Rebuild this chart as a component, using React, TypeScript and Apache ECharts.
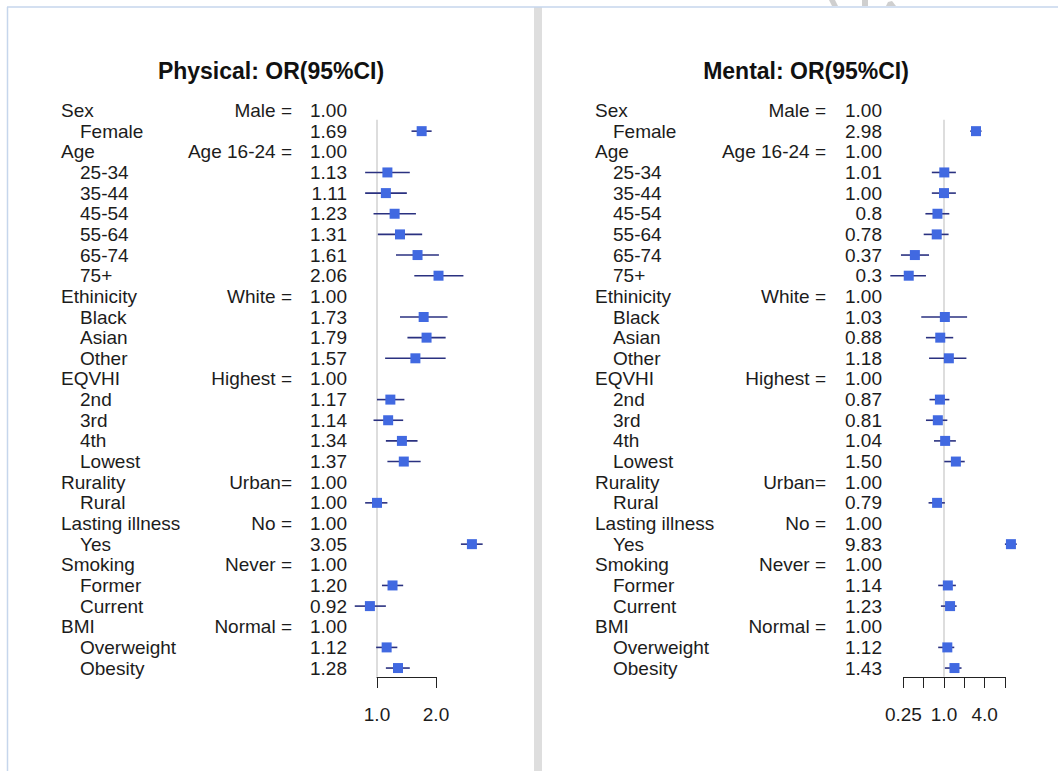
import React, { useEffect, useRef } from "react";
import * as echarts from "echarts";

// ---------------- data ----------------
const categories = ["Sex", "Female", "Age", "25-34", "35-44", "45-54", "55-64", "65-74", "75+", "Ethinicity", "Black", "Asian", "Other", "EQVHI", "2nd", "3rd", "4th", "Lowest", "Rurality", "Rural", "Lasting illness", "Yes", "Smoking", "Former", "Current", "BMI", "Overweight", "Obesity"];
const headerRows = [0, 2, 9, 13, 18, 20, 22, 25];
const referenceLabels = ["Male =", "", "Age 16-24 =", "", "", "", "", "", "", "White =", "", "", "", "Highest =", "", "", "", "", "Urban=", "", "No =", "", "Never =", "", "", "Normal =", "", ""];

const physicalText = ["1.00", "1.69", "1.00", "1.13", "1.11", "1.23", "1.31", "1.61", "2.06", "1.00", "1.73", "1.79", "1.57", "1.00", "1.17", "1.14", "1.34", "1.37", "1.00", "1.00", "1.00", "3.05", "1.00", "1.20", "0.92", "1.00", "1.12", "1.28"];
const physicalOR = [null, 1.69, null, 1.13, 1.11, 1.23, 1.31, 1.61, 2.06, null, 1.73, 1.79, 1.57, null, 1.17, 1.14, 1.34, 1.37, null, 1.0, null, 3.05, null, 1.2, 0.92, null, 1.12, 1.28];
const physicalLow = [null, 1.5, null, 0.87, 0.87, 0.96, 1.01, 1.25, 1.55, null, 1.31, 1.43, 1.1, null, 1.0, 0.96, 1.11, 1.13, null, 0.87, null, 2.68, null, 1.06, 0.77, null, 0.99, 1.11];
const physicalHigh = [null, 1.9, null, 1.47, 1.42, 1.58, 1.7, 2.07, 2.76, null, 2.29, 2.24, 2.24, null, 1.38, 1.36, 1.61, 1.67, null, 1.13, null, 3.46, null, 1.36, 1.11, null, 1.27, 1.47];

const mentalText = ["1.00", "2.98", "1.00", "1.01", "1.00", "0.8", "0.78", "0.37", "0.3", "1.00", "1.03", "0.88", "1.18", "1.00", "0.87", "0.81", "1.04", "1.50", "1.00", "0.79", "1.00", "9.83", "1.00", "1.14", "1.23", "1.00", "1.12", "1.43"];
const mentalOR = [null, 2.98, null, 1.01, 1.0, 0.8, 0.78, 0.37, 0.3, null, 1.03, 0.88, 1.18, null, 0.87, 0.81, 1.04, 1.5, null, 0.79, null, 9.83, null, 1.14, 1.23, null, 1.12, 1.43];
const mentalLow = [null, 2.45, null, 0.66, 0.66, 0.53, 0.5, 0.23, 0.16, null, 0.46, 0.54, 0.6, null, 0.61, 0.54, 0.71, 1.01, null, 0.59, null, 8.0, null, 0.82, 0.9, null, 0.82, 1.03];
const mentalHigh = [null, 3.6, null, 1.5, 1.5, 1.2, 1.17, 0.6, 0.54, null, 2.2, 1.37, 2.15, null, 1.2, 1.12, 1.5, 2.03, null, 1.03, null, 12.0, null, 1.5, 1.54, null, 1.42, 1.82];

const physicalTicks = [1, 2];
const physicalTickLabels = ["1.0", "2.0"];
const mentalTicks = [0.25, 0.5, 1, 2, 4, 8];
const mentalTickLabels = ["0.25", "", "1.0", "", "4.0", ""];

// ---------------- layout ----------------
const FONT = "'Liberation Sans', Arial, Helvetica, sans-serif";
const TEXT_COLOR = "#1c1c1c";
const FONT_SIZE = 19;
const ROW0 = 110.5;
const ROW_H = 20.65;
const NROWS = categories.length;
const AXIS_Y = 677;

const panels = [
  {
    title: "Physical: OR(95%CI)", titleX: 271,
    one: 377, ppu: 59, xmin: 0.75, xmax: 4,
    headerX: 61, subX: 80, refX: 292, valX: 347,
    text: physicalText, or: physicalOR, low: physicalLow, high: physicalHigh,
    ticks: physicalTicks, tickLabels: physicalTickLabels,
  },
  {
    title: "Mental: OR(95%CI)", titleX: 806,
    one: 944, ppu: 20.3, xmin: 0.15, xmax: 16,
    headerX: 595, subX: 613, refX: 826, valX: 882,
    text: mentalText, or: mentalOR, low: mentalLow, high: mentalHigh,
    ticks: mentalTicks, tickLabels: mentalTickLabels,
  },
];

function buildOption() {
  const grid: any[] = [];
  const xAxis: any[] = [];
  const yAxis: any[] = [];
  const series: any[] = [];
  const graphic: any[] = [];

  // frame of the screenshot
  graphic.push(
    { type: "rect", shape: { x: 534, y: 7, width: 8, height: 764 }, style: { fill: "#dedede" }, silent: true },
    { type: "line", shape: { x1: 7, y1: 7, x2: 1058, y2: 7 }, style: { stroke: "#c6d6ec", lineWidth: 1.5 }, silent: true },
    { type: "line", shape: { x1: 7.5, y1: 7, x2: 7.5, y2: 771 }, style: { stroke: "#c6d6ec", lineWidth: 1.5 }, silent: true },
    { type: "polygon", shape: { points: [[829, 0], [835, 0], [838, 6], [832, 6]] }, style: { fill: "#cfcfcf" }, silent: true },
    { type: "rect", shape: { x: 862, y: 0, width: 6, height: 6 }, style: { fill: "#cfcfcf" }, silent: true },
    { type: "polygon", shape: { points: [[888, 2], [892, 1], [896, 6], [886, 6]] }, style: { fill: "#cfcfcf" }, silent: true }
  );

  const headerSet = new Set(headerRows);

  panels.forEach((p) => {
    const mainGrid = grid.length;
    const gridLeft = p.one + p.ppu * Math.log2(p.xmin);
    grid.push({
      left: gridLeft,
      width: p.ppu * (Math.log2(p.xmax) - Math.log2(p.xmin)),
      top: ROW0,
      height: NROWS * ROW_H,
      outerBoundsMode: "none",
      containLabel: false,
    });
    const axisGrid = grid.length;
    const t0 = p.ticks[0];
    const t1 = p.ticks[p.ticks.length - 1];
    grid.push({
      left: p.one + p.ppu * Math.log2(t0),
      width: p.ppu * (Math.log2(t1) - Math.log2(t0)),
      top: AXIS_Y - 10,
      height: 10,
      outerBoundsMode: "none",
      containLabel: false,
    });

    const mainX = xAxis.length;
    xAxis.push({ gridIndex: mainGrid, type: "log", logBase: 2, min: p.xmin, max: p.xmax, show: false, axisLine: { onZero: false } });
    xAxis.push({
      gridIndex: axisGrid, type: "log", logBase: 2, min: t0, max: t1, position: "bottom",
      axisLine: { show: true, onZero: false, lineStyle: { color: "#222", width: 1 } },
      axisTick: { show: true, inside: false, length: 11, lineStyle: { color: "#222", width: 1 } },
      splitLine: { show: false },
      minorTick: { show: false },
      axisLabel: {
        show: true, margin: 28, fontSize: FONT_SIZE, fontFamily: FONT, color: TEXT_COLOR, hideOverlap: false,
        formatter: (v: number) => {
          const i = p.ticks.findIndex((t) => Math.abs(t - v) < 1e-6);
          return i >= 0 ? p.tickLabels[i] : "";
        },
      },
    });

    const mainY = yAxis.length;
    yAxis.push({ gridIndex: mainGrid, type: "value", inverse: true, min: 0, max: NROWS, show: false, axisLine: { onZero: false } });
    yAxis.push({ gridIndex: axisGrid, type: "value", show: false, axisLine: { onZero: false } });

    const pad = (arr: string[]) => [...arr, ""];
    const textAxis = (data: string[], anchor: number, align: string) => ({
      gridIndex: mainGrid, type: "category", data: pad(data), inverse: true, boundaryGap: false,
      position: "left", offset: gridLeft - anchor,
      axisLine: { show: false, onZero: false }, axisTick: { show: false }, splitLine: { show: false },
      axisLabel: { show: true, interval: 0, margin: 0, align, fontSize: FONT_SIZE, fontFamily: FONT, color: TEXT_COLOR, hideOverlap: false },
    });
    yAxis.push(textAxis(categories.map((c, i) => (headerSet.has(i) ? c : "")), p.headerX, "left"));
    yAxis.push(textAxis(categories.map((c, i) => (headerSet.has(i) ? "" : c)), p.subX, "left"));
    yAxis.push(textAxis(referenceLabels, p.refX, "right"));
    yAxis.push(textAxis(p.text, p.valX, "right"));

    // reference line at OR = 1
    series.push({
      type: "line", xAxisIndex: mainX, yAxisIndex: mainY, data: [[1, 0.45], [1, 27.42]],
      symbol: "none", lineStyle: { color: "#d2d2d2", width: 1.5 }, silent: true, z: 1, clip: false,
    });

    const ciData: number[][] = [];
    const boxData: number[][] = [];
    p.or.forEach((v, i) => {
      if (v != null) {
        ciData.push([p.low[i] as number, p.high[i] as number, i]);
        boxData.push([v, i]);
      }
    });

    series.push({
      type: "custom", xAxisIndex: mainX, yAxisIndex: mainY, data: ciData, z: 2, silent: true, clip: false,
      encode: { x: [0, 1], y: 2 },
      renderItem: (params: any, api: any) => {
        const a = api.coord([api.value(0), api.value(2)]);
        const b = api.coord([api.value(1), api.value(2)]);
        return {
          type: "line",
          shape: { x1: a[0], y1: a[1], x2: b[0], y2: b[1] },
          style: { stroke: "#2a3180", lineWidth: 1.6 },
        };
      },
    });

    series.push({
      type: "scatter", xAxisIndex: mainX, yAxisIndex: mainY, data: boxData, z: 3, silent: true, clip: false,
      symbol: "rect", symbolSize: 10, itemStyle: { color: "#4169e1", opacity: 1 },
    });

    graphic.push({
      type: "text", x: p.titleX, y: 70.5, silent: true,
      style: { text: p.title, fontSize: 23, fontWeight: "bold", fontFamily: FONT, fill: "#111", align: "center", verticalAlign: "middle" },
    });
  });

  return {
    animation: false,
    backgroundColor: "#ffffff",
    grid, xAxis, yAxis, series, graphic,
  };
}

export default function App() {
  const ref = useRef<HTMLDivElement | null>(null);
  useEffect(() => {
    if (!ref.current) return;
    const chart = echarts.init(ref.current, null, { renderer: "svg" });
    chart.setOption(buildOption() as any);
    return () => chart.dispose();
  }, []);
  return <div ref={ref} style={{ position: "fixed", left: 0, top: 0, width: 1058, height: 771, background: "#fff" }} />;
}
